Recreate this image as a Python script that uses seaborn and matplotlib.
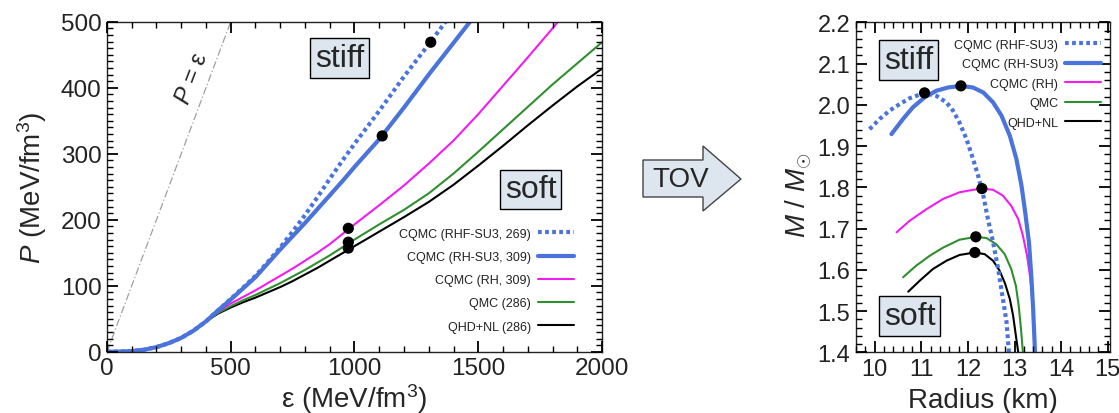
import numpy as np
import pandas as pd
import matplotlib
matplotlib.use("Agg")
import matplotlib.pyplot as plt
from matplotlib.patches import Polygon
from matplotlib.ticker import MultipleLocator, FormatStrFormatter
import seaborn as sns

# --- EOS panel: energy density vs pressure (MeV/fm^3) ---
eps = [0, 50, 100, 150, 200, 250, 300, 350, 400, 450, 500, 550, 600, 650, 700,
       750, 800, 850, 900, 950, 1000, 1100, 1200, 1300, 1400, 1500, 1600, 1700,
       1800, 1900, 2000]
p_low = [0, 0.2, 1, 3, 7, 13, 21, 32, 46]
p_rhf_su3 = p_low + [63, 80, 97, 115, 136, 158, 182, 207, 234, 262, 289, 315,
                     365, 417, 466, 516]
p_rh_su3 = p_low + [63, 79, 96, 113, 134, 155, 175, 195, 216, 237, 258, 280,
                    322, 370, 420, 468, 516]
p_rh = p_low + [61, 73, 83, 93, 104, 115, 126, 138, 150, 163, 178, 193,
                222, 252, 285, 320, 360, 403, 446, 490, 535]
p_qmc = p_low + [59, 69, 78, 86, 95, 104, 114, 124, 135, 146, 158, 170,
                 193, 215, 240, 270, 303, 337, 371, 405, 437, 469]
p_qhd = p_low + [58, 67, 75, 82, 90, 98, 107, 117, 127, 138, 149, 160,
                 182, 204, 227, 253, 282, 312, 343, 373, 402, 429]
eos_dot_eps = [1308, 1112, 975, 975, 975]
eos_dot_p = [469, 327, 187, 166, 157]
causal_eps = [0, 500]

# --- M-R panel: radius (km) vs mass (solar masses) ---
r_rhf_su3 = [9.89, 10.11, 10.32, 10.54, 10.75, 11.07, 11.32, 11.54, 11.68, 11.82,
             11.97, 12.11, 12.22, 12.33, 12.43, 12.54, 12.65, 12.74, 12.83, 12.88]
m_rhf_su3 = [1.941, 1.966, 1.986, 2.002, 2.016, 2.029, 2.022, 2.006, 1.986, 1.957,
             1.917, 1.869, 1.828, 1.780, 1.723, 1.667, 1.602, 1.537, 1.473, 1.400]
r_rh_su3 = [10.36, 10.61, 10.82, 11.07, 11.32, 11.57, 11.85, 12.11, 12.33, 12.54,
            12.72, 12.90, 13.04, 13.15, 13.23, 13.31, 13.36, 13.40, 13.44]
m_rh_su3 = [1.929, 1.966, 1.994, 2.018, 2.034, 2.042, 2.046, 2.042, 2.030, 2.006,
            1.974, 1.925, 1.869, 1.804, 1.739, 1.667, 1.586, 1.505, 1.400]
r_rh = [10.47, 10.75, 11.11, 11.47, 11.82, 12.11, 12.30, 12.54, 12.75, 12.93,
        13.08, 13.18, 13.27, 13.34, 13.40, 13.44]
m_rh = [1.691, 1.719, 1.747, 1.772, 1.788, 1.794, 1.797, 1.794, 1.780, 1.755,
        1.723, 1.683, 1.634, 1.578, 1.505, 1.400]
r_qmc = [10.61, 10.89, 11.18, 11.47, 11.82, 12.17, 12.40, 12.61, 12.79, 12.93,
         13.03, 13.09, 13.14, 13.18]
m_qmc = [1.582, 1.610, 1.634, 1.654, 1.673, 1.680, 1.677, 1.662, 1.638, 1.602,
         1.561, 1.513, 1.456, 1.400]
r_qhd = [10.72, 10.97, 11.25, 11.54, 11.82, 12.15, 12.36, 12.54, 12.68, 12.80,
         12.90, 12.97, 13.03, 13.08]
m_qhd = [1.547, 1.574, 1.602, 1.622, 1.636, 1.642, 1.638, 1.622, 1.598, 1.566,
         1.529, 1.489, 1.440, 1.400]
mr_dot_r = [11.07, 11.85, 12.30, 12.17, 12.15]
mr_dot_m = [2.029, 2.046, 1.797, 1.680, 1.642]

blue = "#4a74dc"
magenta = "#f21cf2"
green = "#2f8f2f"
box_fc = "#dde5ee"
ink = "#222222"

# axisbelow off, otherwise the inward ticks get hidden
sns.set_theme(style="ticks", rc={"axes.axisbelow": False})
plt.rcParams["font.family"] = ["Liberation Sans", "DejaVu Sans"]
plt.rcParams["mathtext.fontset"] = "custom"
plt.rcParams["mathtext.rm"] = "Liberation Sans"
plt.rcParams["mathtext.it"] = "Liberation Sans:italic"

fig = plt.figure(figsize=(11.19, 4.14), dpi=100)
ax1 = fig.add_axes([0.0956, 0.148, 0.4424, 0.797])
ax2 = fig.add_axes([0.765, 0.1466, 0.227, 0.797])

dot_style = (0, (0.9, 0.8))

# EOS curves
sns.lineplot(x=causal_eps, y=causal_eps, ax=ax1, color="#a0a0a0", lw=0.9,
             linestyle=(0, (6, 2, 1, 2)), sort=False)
sns.lineplot(x=eps[:len(p_qhd)], y=p_qhd, ax=ax1, color="black", lw=1.5,
             label="QHD+NL (286)")
sns.lineplot(x=eps[:len(p_qmc)], y=p_qmc, ax=ax1, color=green, lw=1.5,
             label="QMC (286)")
sns.lineplot(x=eps[:len(p_rh)], y=p_rh, ax=ax1, color=magenta, lw=1.5,
             label="CQMC (RH, 309)")
sns.lineplot(x=eps[:len(p_rh_su3)], y=p_rh_su3, ax=ax1, color=blue, lw=3,
             label="CQMC (RH-SU3, 309)")
sns.lineplot(x=eps[:len(p_rhf_su3)], y=p_rhf_su3, ax=ax1, color=blue, lw=3,
             linestyle=dot_style, label="CQMC (RHF-SU3, 269)")
sns.scatterplot(x=eos_dot_eps, y=eos_dot_p, ax=ax1, color="black", s=65,
                edgecolor="none", zorder=5)

ax1.set_xlim(0, 2000)
ax1.set_ylim(0, 500)
ax1.xaxis.set_major_locator(MultipleLocator(500))
ax1.xaxis.set_minor_locator(MultipleLocator(100))
ax1.yaxis.set_major_locator(MultipleLocator(100))
ax1.yaxis.set_minor_locator(MultipleLocator(10))
ax1.set_xlabel("ε (MeV/fm$^3$)", fontsize=20)
ax1.set_ylabel("$P$ (MeV/fm$^3$)", fontsize=20)
ax1.xaxis.set_label_coords(0.5, -0.09)
ax1.yaxis.set_label_coords(-0.118, 0.5)

h, l = ax1.get_legend_handles_labels()
ax1.legend(h[::-1], l[::-1], loc="upper right", bbox_to_anchor=(0.966, 0.41),
           frameon=False, markerfirst=False, fontsize=9, handlelength=2.9,
           handletextpad=0.55, labelspacing=0.9, borderpad=0.4,
           labelcolor=ink)

ax1.text(345, 415, "$P$ = ε", rotation=69, fontsize=17, color=ink,
         ha="center", va="center")
box = dict(boxstyle="square,pad=0.15", fc=box_fc, ec="black", lw=1)
ax1.text(940, 445, "stiff", fontsize=23, ha="center", va="center", bbox=box)
ax1.text(1712, 246, "soft", fontsize=23, ha="center", va="center", bbox=box)

# M-R curves
sns.lineplot(x=r_qhd, y=m_qhd, ax=ax2, color="black", lw=1.5, sort=False,
             label="QHD+NL")
sns.lineplot(x=r_qmc, y=m_qmc, ax=ax2, color=green, lw=1.5, sort=False,
             label="QMC")
sns.lineplot(x=r_rh, y=m_rh, ax=ax2, color=magenta, lw=1.5, sort=False,
             label="CQMC (RH)")
sns.lineplot(x=r_rh_su3, y=m_rh_su3, ax=ax2, color=blue, lw=3, sort=False,
             label="CQMC (RH-SU3)")
sns.lineplot(x=r_rhf_su3, y=m_rhf_su3, ax=ax2, color=blue, lw=3, sort=False,
             linestyle=dot_style, label="CQMC (RHF-SU3)")
sns.scatterplot(x=mr_dot_r, y=mr_dot_m, ax=ax2, color="black", s=65,
                edgecolor="none", zorder=5)

ax2.set_xlim(9.6, 15.05)
ax2.set_ylim(1.4, 2.2)
ax2.xaxis.set_major_locator(MultipleLocator(1))
ax2.xaxis.set_minor_locator(MultipleLocator(0.2))
ax2.yaxis.set_major_locator(MultipleLocator(0.1))
ax2.yaxis.set_minor_locator(MultipleLocator(0.02))
ax2.yaxis.set_major_formatter(FormatStrFormatter("%.1f"))
ax2.set_xlabel("Radius (km)", fontsize=20)
ax2.set_ylabel("$M$ / $M_{\\odot}$", fontsize=20)
ax2.xaxis.set_label_coords(0.5, -0.105)
ax2.yaxis.set_label_coords(-0.165, 0.48)

h, l = ax2.get_legend_handles_labels()
ax2.legend(h[::-1], l[::-1], loc="upper right", bbox_to_anchor=(1.01, 0.985),
           frameon=False, markerfirst=False, fontsize=9, handlelength=2.9,
           handletextpad=0.55, labelspacing=0.6, borderpad=0.4,
           labelcolor=ink)

ax2.text(10.73, 2.109, "stiff", fontsize=23, ha="center", va="center", bbox=box)
ax2.text(10.75, 1.488, "soft", fontsize=23, ha="center", va="center", bbox=box)

for ax, lsize in ((ax1, 17.5), (ax2, 17)):
    ax.tick_params(which="both", direction="in", top=True, right=True,
                   color="black")
    ax.tick_params(which="major", length=8, width=1.3, pad=4, labelsize=lsize,
                   labelcolor=ink)
    ax.tick_params(which="minor", length=4.5, width=1)
    for s in ax.spines.values():
        s.set_color(ink)
        s.set_linewidth(1)

# TOV arrow between the panels
W, H = 1119, 414
pts = [(643, 161), (703, 161), (703, 147), (741, 180), (703, 212), (703, 198), (643, 198)]
arrow = Polygon([(x / W, 1 - y / H) for x, y in pts], closed=True,
                transform=fig.transFigure, fc=box_fc, ec="#444444", lw=1)
fig.patches.append(arrow)
fig.text(681 / W, 1 - 180 / H, "TOV", fontsize=20, ha="center", va="center")

fig.savefig("out.png", dpi=100)
